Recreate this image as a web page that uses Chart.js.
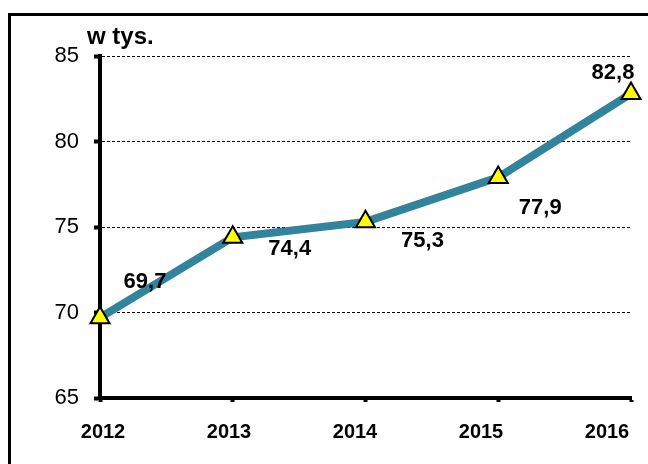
<!DOCTYPE html>
<html>
<head>
<meta charset="utf-8">
<script src="https://cdn.jsdelivr.net/npm/chart.js@4/dist/chart.umd.min.js"></script>
<style>
  html, body { margin: 0; padding: 0; background: #fff; }
  #wrap { position: relative; width: 648px; height: 464px; overflow: hidden; }
  #frame { position: absolute; left: 8px; top: 13px; width: 700px; height: 500px;
           border-top: 3px solid #000; border-left: 3px solid #000; }
  canvas { position: absolute; left: 0; top: 0; }
</style>
</head>
<body>
<div id="wrap">
  <div id="frame"></div>
  <canvas id="chart" width="648" height="464"></canvas>
</div>
<script>
// dane
var years = ['2012', '2013', '2014', '2015', '2016'];
var values = [69.7, 74.4, 75.3, 77.9, 82.8];
var unitLabel = 'w tys.';

// przesuniecia etykiet wartosci wzgledem punktow
var labelOffsets = [[45, -36], [57, 12], [57, 19], [42, 31], [-18, -21]];

const valueLabels = {
    id: 'valueLabels',
    afterDatasetsDraw(chart) {
        const ctx = chart.ctx;
        const meta = chart.getDatasetMeta(0);
        const xs = chart.scales.x;
        ctx.save();
        ctx.fillStyle = '#000';
        ctx.font = 'bold 22px "Liberation Sans", Arial, sans-serif';
        ctx.textAlign = 'center';
        ctx.textBaseline = 'middle';
        meta.data.forEach((pt, i) => {
            let txt = values[i].toFixed(1).replace('.', ',');
            ctx.fillText(txt, pt.x + labelOffsets[i][0], pt.y + labelOffsets[i][1]);
        });
        // etykiety lat - rozlozone troche ciasniej niz znaczniki (jak w Excelu)
        ctx.font = 'bold 20px "Liberation Sans", Arial, sans-serif';
        const n = years.length;
        const step = (xs.width - 27) / (n - 1);
        years.forEach((y, i) => {
            ctx.fillText(y, xs.left + 3 + i * step, xs.top + 34);
        });
        // jednostka nad osia
        ctx.textAlign = 'left';
        ctx.textBaseline = 'alphabetic';
        ctx.font = 'bold 24px "Liberation Sans", Arial, sans-serif';
        ctx.fillText(unitLabel, 87, 44);
        ctx.restore();
    }
};

var ctx = document.getElementById('chart').getContext('2d');
window.lineChart = new Chart(ctx, {
    type: 'line',
    data: {
        labels: years,
        datasets: [{
            data: values,
            borderColor: '#31849b',
            borderWidth: 8,
            tension: 0,
            clip: false,
            pointStyle: 'triangle',
            pointRadius: 11,
            pointBackgroundColor: '#ffff00',
            pointBorderColor: '#000',
            pointBorderWidth: 2
        }]
    },
    options: {
        responsive: false,
        animation: false,
        layout: {
            padding: { top: 56, right: 17, left: 0, bottom: 0 }
        },
        scales: {
            x: {
                type: 'category',
                offset: false,
                afterFit(scale) {
                    scale.height = 66;
                    scale.paddingLeft = 0;
                    scale.paddingRight = 0;
                },
                grid: {
                    drawOnChartArea: false,
                    drawTicks: true,
                    tickLength: 4,
                    tickWidth: 4,
                    tickColor: '#000'
                },
                border: { display: true, color: '#000', width: 4 },
                ticks: {
                    display: false,
                    maxRotation: 0
                }
            },
            y: {
                min: 65,
                max: 85,
                afterFit(scale) {
                    scale.width = 100;
                    scale.paddingTop = 0;
                    scale.paddingBottom = 0;
                },
                grid: {
                    color: '#000',
                    lineWidth: 1,
                    tickColor: '#000',
                    tickWidth: 4,
                    tickLength: 6,
                    tickBorderDash: [],
                    drawTicks: true
                },
                border: { display: true, color: '#000', width: 4, dash: [3, 2] },
                ticks: {
                    stepSize: 5,
                    color: '#000',
                    padding: 15,
                    font: { family: '"Liberation Sans", Arial, sans-serif', size: 22 }
                }
            }
        },
        plugins: {
            legend: { display: false },
            tooltip: { enabled: false }
        }
    },
    plugins: [valueLabels]
});
</script>
</body>
</html>
